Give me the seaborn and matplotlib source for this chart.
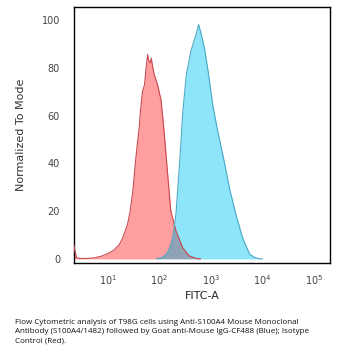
import numpy as np
import pandas as pd
import matplotlib
matplotlib.use("Agg")
import matplotlib.pyplot as plt
import seaborn as sns

# log10(FITC-A) positions and "Normalized To Mode" values
red_log = [0.34, 0.36, 0.39, 0.45, 0.60, 0.75, 0.88, 0.96, 1.05, 1.13, 1.22, 1.29, 1.38,
           1.43, 1.48, 1.54, 1.61, 1.63, 1.65, 1.67, 1.71, 1.74, 1.77, 1.79, 1.82, 1.84,
           1.87, 1.90, 1.96, 2.03, 2.09, 2.16, 2.22, 2.32, 2.45, 2.58, 2.70, 2.80]
red_val = [5.9, 3.0, 0.5, 0.2, 0.2, 0.5, 1.2, 1.9, 2.8, 4.0, 6.0, 9.0, 14.5,
           20.0, 28.0, 42.0, 56.0, 62.0, 66.0, 70.0, 73.0, 80.0, 85.5, 83.0, 82.0, 84.0,
           80.0, 77.0, 73.0, 66.5, 53.0, 35.0, 20.0, 11.7, 4.7, 1.2, 0.3, 0.0]
blue_log = [1.94, 2.05, 2.14, 2.20, 2.26, 2.32, 2.39, 2.45, 2.52, 2.61, 2.71, 2.76, 2.81,
            2.87, 2.94, 3.04, 3.13, 3.23, 3.36, 3.49, 3.62, 3.75, 3.85, 3.94, 4.00]
blue_val = [0.0, 0.6, 2.0, 4.5, 9.0, 19.0, 40.0, 61.0, 77.0, 87.0, 94.0, 98.0, 94.0,
            88.5, 79.0, 63.6, 53.5, 43.5, 29.4, 18.0, 8.4, 2.0, 0.6, 0.1, 0.0]

ytick_vals = [0, 20, 40, 60, 80, 100]
xtick_vals = [10, 100, 1000, 10000, 100000]
caption = ("Flow Cytometric analysis of T98G cells using Anti-S100A4 Mouse Monoclonal\n"
           "Antibody (S100A4/1482) followed by Goat anti-Mouse IgG-CF488 (Blue); Isotype\n"
           "Control (Red).")

red = pd.DataFrame({"x": 10 ** np.array(red_log), "y": red_val})
blue = pd.DataFrame({"x": 10 ** np.array(blue_log), "y": blue_val})

sns.set_style("white")
plt.rcParams['font.family'] = ['DejaVu Sans']

fig = plt.figure(figsize=(3.6, 3.58), dpi=100)
ax = fig.add_axes([74 / 360, 1 - 263 / 358, 256 / 360, 256 / 358])
ax.set_xscale("log")

red_fill = ax.fill_between(red["x"], 0, red["y"], color="#ff9e9e", lw=0, zorder=1)
blue_fill = ax.fill_between(blue["x"], 0, blue["y"], color="#8ee4f8", lw=0, zorder=2)
# overlap region (multiplicative look)
ov = ax.fill_between(red["x"], 0, red["y"], color="#8fa2b6", lw=0, zorder=3)
ov.set_clip_path(blue_fill.get_paths()[0], ax.transData)

sns.lineplot(data=red, x="x", y="y", ax=ax, color="#c9474f", lw=0.8, zorder=4,
             estimator=None, sort=False)
sns.lineplot(data=blue, x="x", y="y", ax=ax, color="#4aa9c4", lw=0.8, zorder=4,
             estimator=None, sort=False)

ax.set_xlim(10 ** 0.34, 10 ** 5.31)
ax.set_ylim(-1.7, 105.4)
ax.set_yticks(ytick_vals, labels=[str(v) for v in ytick_vals])
ax.set_xticks(xtick_vals)
ax.xaxis.set_minor_locator(matplotlib.ticker.NullLocator())
ax.tick_params(axis="both", length=0, labelsize=7, colors="#444444")
ax.tick_params(axis="y", pad=10)
ax.tick_params(axis="x", pad=7)
ax.set_xlabel("FITC-A", fontsize=8, color="#222222", labelpad=3)
ax.set_ylabel("Normalized To Mode", fontsize=8, color="#333333", labelpad=11)
for s in ax.spines.values():
    s.set_color("black")
    s.set_linewidth(1.0)
    s.set_visible(True)

fig.text(15 / 360, 1 - 319 / 358, caption, fontsize=5.75, family="Open Sans",
         va="top", ha="left", color="#111111", linespacing=1.45)

fig.savefig("out.png", dpi=100)
